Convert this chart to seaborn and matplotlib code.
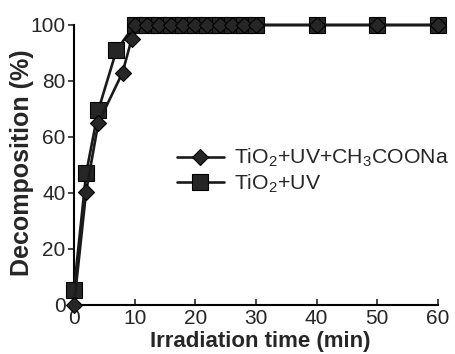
import matplotlib
matplotlib.use("Agg")
import matplotlib.pyplot as plt
import seaborn as sns
import pandas as pd

# Decomposition (%) versus irradiation time (min)
time_acetate = [0, 2, 4, 8, 9.5, 10, 12, 14, 16, 18, 20, 22, 24, 26, 28, 30, 40, 50, 60]
decomp_acetate = [0, 40.5, 65, 83, 95, 100, 100, 100, 100, 100, 100, 100, 100, 100, 100, 100, 100, 100, 100]

time_uv = [0, 2, 4, 7, 10, 12, 14, 16, 18, 20, 22, 24, 26, 28, 30, 40, 50, 60]
decomp_uv = [5.5, 47, 69.5, 91, 100, 100, 100, 100, 100, 100, 100, 100, 100, 100, 100, 100, 100, 100]

label_acetate = "TiO$_2$+UV+CH$_3$COONa"
label_uv = "TiO$_2$+UV"

x_ticks = [0, 10, 20, 30, 40, 50, 60]
y_ticks = [0, 20, 40, 60, 80, 100]

sns.set_style("ticks")
plt.rcParams["font.family"] = ["Liberation Sans", "DejaVu Sans"]
plt.rcParams["mathtext.fontset"] = "custom"
plt.rcParams["mathtext.rm"] = "Liberation Sans"
plt.rcParams["mathtext.default"] = "regular"

df_acetate = pd.DataFrame({"t": time_acetate, "d": decomp_acetate})
df_uv = pd.DataFrame({"t": time_uv, "d": decomp_uv})

fig = plt.figure(figsize=(4.55, 3.54), dpi=100)
ax = fig.add_axes([74 / 455, 1 - 305 / 354, (438 - 74) / 455, (305 - 25) / 354])

mark_fc = "#262626"
line_c = "#1a1a1a"

sns.lineplot(data=df_uv, x="t", y="d", ax=ax, color=line_c, linewidth=1.9,
             marker="s", markersize=11, markerfacecolor=mark_fc,
             markeredgecolor="black", markeredgewidth=0.8,
             label=label_uv, clip_on=False, zorder=3)
sns.lineplot(data=df_acetate, x="t", y="d", ax=ax, color=line_c, linewidth=1.9,
             marker="D", markersize=8.5, markerfacecolor=mark_fc,
             markeredgecolor="black", markeredgewidth=0.8,
             label=label_acetate, clip_on=False, zorder=4)

ax.set_xlim(0, 60)
ax.set_ylim(0, 100)
ax.set_xticks(x_ticks)
ax.set_yticks(y_ticks)
ax.tick_params(axis="x", direction="in", length=4, width=1.2, labelsize=15, pad=3)
ax.tick_params(axis="y", direction="out", length=4, width=1.2, labelsize=15, pad=2)
for s in ["left", "bottom"]:
    ax.spines[s].set_linewidth(1.5)
    ax.spines[s].set_color("black")
sns.despine(ax=ax)

ax.set_xlabel("Irradiation time (min)", fontsize=16, fontweight="bold")
ax.set_ylabel("Decomposition (%)", fontsize=18, fontweight="bold")
ax.xaxis.set_label_coords((260 - 74) / 364, (305 - 331) / 280)
ax.yaxis.set_label_coords((34 - 74) / 364, (305 - 163) / 280)

handles, labels = ax.get_legend_handles_labels()
order = [labels.index(label_acetate), labels.index(label_uv)]
ax.legend([handles[i] for i in order], [labels[i] for i in order],
          loc="upper left", bbox_to_anchor=(177 / 455, 1 - 147 / 354),
          bbox_transform=fig.transFigure, frameon=False, fontsize=15.3,
          handlelength=2.2, handletextpad=0.5, labelspacing=0.15,
          borderpad=0, borderaxespad=0)

fig.savefig("out.png", dpi=100)
